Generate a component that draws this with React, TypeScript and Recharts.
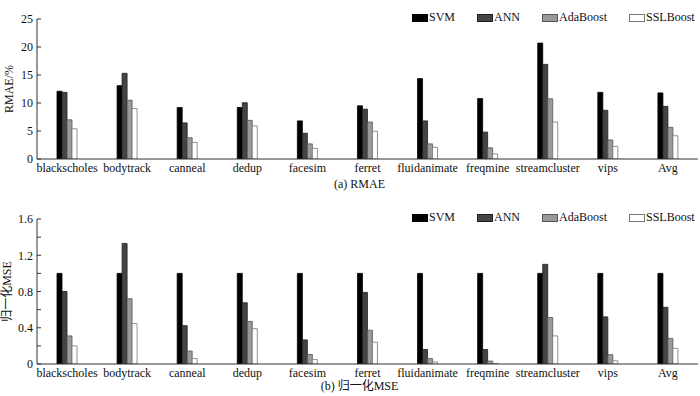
import { BarChart, Bar, XAxis, YAxis, Legend } from "recharts";

const BENCHMARKS = [
  "blackscholes", "bodytrack", "canneal", "dedup", "facesim", "ferret",
  "fluidanimate", "freqmine", "streamcluster", "vips", "Avg",
];

// (a) RMAE/%
const RMAE_SVM = [12.1, 13.1, 9.2, 9.2, 6.8, 9.5, 14.35, 10.8, 20.7, 11.9, 11.8];
const RMAE_ANN = [11.9, 15.3, 6.45, 10.05, 4.6, 8.9, 6.8, 4.8, 16.9, 8.7, 9.4];
const RMAE_ADA = [7.0, 10.5, 3.8, 6.9, 2.7, 6.6, 2.7, 2.0, 10.75, 3.4, 5.65];
const RMAE_SSL = [5.4, 9.0, 2.95, 5.9, 1.9, 4.95, 2.1, 0.9, 6.6, 2.25, 4.15];

// (b) 归一化MSE
const MSE_SVM = [1, 1, 1, 1, 1, 1, 1, 1, 1, 1, 1];
const MSE_ANN = [0.8, 1.33, 0.423, 0.676, 0.266, 0.79, 0.16, 0.16, 1.1, 0.52, 0.626];
const MSE_ADA = [0.31, 0.72, 0.143, 0.47, 0.106, 0.373, 0.06, 0.033, 0.513, 0.103, 0.283];
const MSE_SSL = [0.2, 0.446, 0.06, 0.39, 0.05, 0.24, 0.023, 0.006, 0.31, 0.036, 0.173];

const RMAE_TICKS = [0, 5, 10, 15, 20, 25];
const MSE_TICKS = [0, 0.2, 0.4, 0.6, 0.8, 1.0, 1.2, 1.4, 1.6];
const MSE_LABELLED = [0, 0.4, 0.8, 1.2, 1.6];

const SERIES = [
  { key: "svm", name: "SVM", fill: "#000000", stroke: "#000000" },
  { key: "ann", name: "ANN", fill: "#444444", stroke: "#1e1e1e" },
  { key: "ada", name: "AdaBoost", fill: "#9a9a9a", stroke: "#555555" },
  { key: "ssl", name: "SSLBoost", fill: "#ffffff", stroke: "#777777" },
];

const FONT = "'Liberation Serif', 'Times New Roman', 'Noto Sans CJK SC', serif";
const AXIS = "#333";

const rmaeData = BENCHMARKS.map((name, i) => ({
  name, svm: RMAE_SVM[i], ann: RMAE_ANN[i], ada: RMAE_ADA[i], ssl: RMAE_SSL[i],
}));
const mseData = BENCHMARKS.map((name, i) => ({
  name, svm: MSE_SVM[i], ann: MSE_ANN[i], ada: MSE_ADA[i], ssl: MSE_SSL[i],
}));

function LegendBox() {
  return (
    <div style={{ display: "flex", alignItems: "center", fontFamily: FONT, fontSize: 12, color: "#111" }}>
      {SERIES.map((s, i) => (
        <div key={s.key} style={{ display: "flex", alignItems: "center", marginRight: i === 3 ? 0 : 22 }}>
          <span style={{ display: "inline-block", width: 14, height: 6, background: s.fill, border: `1px solid ${s.stroke}`, marginRight: 1 }} />
          <span>{s.name}</span>
        </div>
      ))}
    </div>
  );
}

function YLabel(text: string, cx: number) {
  return ({ viewBox }: any) => {
    const cy = viewBox.y + viewBox.height / 2;
    return (
      <text x={cx} y={cy} transform={`rotate(-90, ${cx}, ${cy})`} textAnchor="middle"
        dominantBaseline="central" fontFamily={FONT} fontSize={12} fill="#111">
        {text}
      </text>
    );
  };
}

function Caption(text: string, dy: number) {
  return ({ viewBox }: any) => (
    <text x={viewBox.x + viewBox.width / 2 - 8} y={viewBox.y + dy} textAnchor="middle"
      fontFamily={FONT} fontSize={12} fill="#111">
      {text}
    </text>
  );
}

function Panel({ data, height, top, xHeight, ticks, domain, fmt, label, labelX, caption, capDy }: any) {
  return (
    <BarChart width={700} height={height} data={data} margin={{ top, right: 2, left: 0, bottom: 0 }}
      barSize={5} barGap={0}>
      <XAxis dataKey="name" height={xHeight} interval={0} tickLine={false} tickSize={2} tickMargin={2}
        stroke={AXIS} tick={{ fontSize: 12, fontFamily: FONT, fill: "#111" }}
        label={{ content: Caption(caption, capDy) }} />
      <XAxis xAxisId="top" dataKey="name" orientation="top" height={0} tick={false} tickLine={false} stroke={AXIS} />
      <YAxis width={37} domain={domain} ticks={ticks} interval={0} tickSize={-4} tickMargin={8}
        stroke={AXIS} tickFormatter={fmt} allowDataOverflow
        tick={{ fontSize: 12, fontFamily: FONT, fill: "#111" }}
        label={{ content: YLabel(label, labelX) }} />
      <YAxis yAxisId="right" orientation="right" width={0} tick={false} tickLine={false} stroke={AXIS} domain={domain} />
      <Legend verticalAlign="top" content={() => <LegendBox />}
        wrapperStyle={{ top: top + 6, left: 412, width: "auto" }} />
      {SERIES.map((s) => (
        <Bar key={s.key} dataKey={s.key} name={s.name} fill={s.fill} stroke={s.stroke}
          strokeWidth={0.8} isAnimationActive={false} />
      ))}
    </BarChart>
  );
}

export default function App() {
  return (
    <div style={{ position: "absolute", left: 0, top: 0, width: 700, height: 396, background: "#fff" }}>
      <Panel data={rmaeData} height={196} top={4} xHeight={37} ticks={RMAE_TICKS} domain={[0, 25]}
        fmt={(v: number) => String(v)} label="RMAE/%" labelX={9} caption="(a) RMAE" capDy={29} />
      <Panel data={mseData} height={200} top={8} xHeight={32} ticks={MSE_TICKS} domain={[0, 1.6]}
        fmt={(v: number) => (MSE_LABELLED.some((t) => Math.abs(t - v) < 1e-6) ? (v === 0 ? "0" : v.toFixed(1)) : "")}
        label="归一化MSE" labelX={7} caption="(b) 归一化MSE" capDy={26} />
    </div>
  );
}
